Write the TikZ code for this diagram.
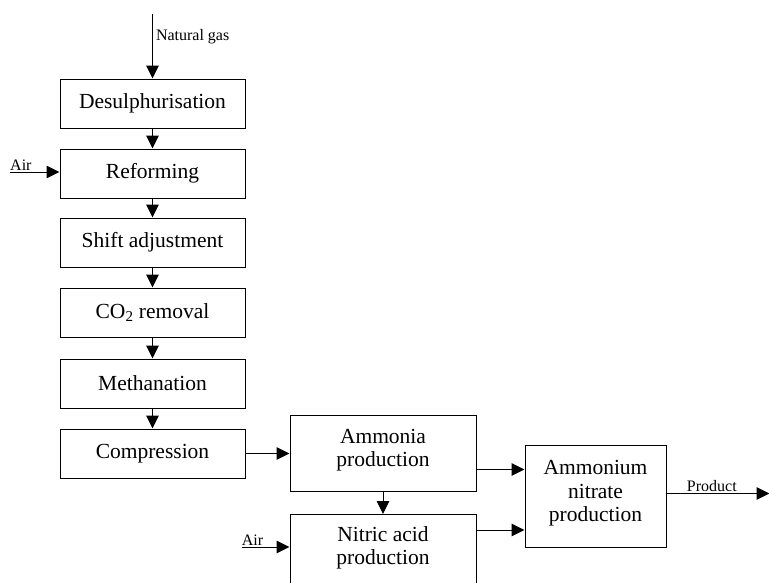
\documentclass[tikz,border=0pt]{standalone}
\usepackage{fontspec}
\setmainfont{Liberation Serif}
\usetikzlibrary{positioning,arrows.meta}

\begin{document}
\begin{tikzpicture}[x=1pt,y=1pt,node distance=20pt, box/.style={draw,line width=1pt,minimum width=185pt,minimum height=49pt,inner sep=2pt,align=center,font=\fontsize{21.5}{23.5}\selectfont}, bigbox/.style={box,minimum width=186pt,minimum height=76pt,text depth=11pt}, lbl/.style={font=\fontsize{16}{18}\selectfont,inner sep=1pt}, arr/.style={-{Triangle[length=13pt,width=12.5pt]},line width=1pt}]
\useasboundingbox (0,0) rectangle (769,-582);
\node[box] (desul) at (152.5,-103.5) {Desulphurisation};
\node[box,below=of desul] (reform) {Reforming};
\node[box,below=19pt of reform] (shift) {Shift adjustment};
\node[box,below=of shift] (coremove) {CO\textsubscript{2} removal};
\node[box,below=21pt of coremove] (methan) {Methanation};
\node[box,below=of methan] (compress) {Compression};
\node[bigbox,right=44pt of compress] (ammonia) {Ammonia\\production};
\node[bigbox,below=22pt of ammonia,text depth=14pt] (nitric) {Nitric acid\\production};
\node[bigbox,minimum width=141pt,minimum height=102pt,right=48pt of ammonia,yshift=-43pt] (ammonium) {Ammonium\\nitrate\\production};
\coordinate (gas) at (152.5,-14);
\coordinate (air1) at (10,-172);
\coordinate (air2) at (242,-547);
\coordinate (prod) at ([xshift=103pt,yshift=3pt]ammonium.east);
\draw[arr] (gas) -- (desul) node[lbl,pos=0.35,right,xshift=2pt] {Natural gas};
\draw[arr] (desul) -- (reform);
\draw[arr] (air1) -- (air1 -| reform.west) node[lbl,pos=0.22,above] {Air};
\draw[arr] (reform) -- (shift);
\draw[arr] (shift) -- (coremove);
\draw[arr] (coremove) -- (methan);
\draw[arr] (methan) -- (compress);
\draw[arr] (compress) -- (ammonia);
\draw[arr] (ammonia) -- (nitric);
\draw[arr] (air2) -- (air2 -| nitric.west) node[lbl,pos=0.22,above] {Air};
\draw[arr] ([yshift=-16pt]ammonia.east) -- ([yshift=-16pt]ammonia.east -| ammonium.west);
\draw[arr] ([yshift=22.5pt]nitric.east) -- ([yshift=22.5pt]nitric.east -| ammonium.west);
\draw[arr] ([yshift=3pt]ammonium.east) -- (prod) node[lbl,pos=0.44,above] {Product};
\end{tikzpicture}
\end{document}
